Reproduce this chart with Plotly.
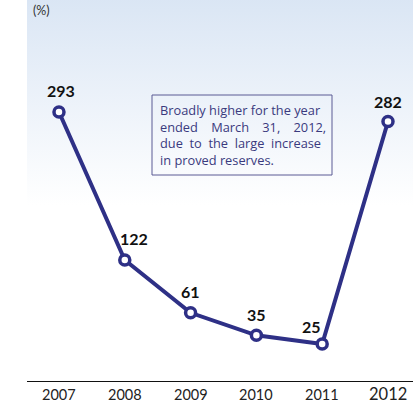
import plotly.graph_objects as go

years = ["2007", "2008", "2009", "2010", "2011", "2012"]
values = [293, 122, 61, 35, 25, 282]
tick_labels = ["2007", "2008", "2009", "2010", "2011", "2012"]
note_lines = ["Broadly higher for the year",
              "ended&nbsp;&nbsp;&nbsp; March&nbsp;&nbsp;&nbsp; 31,&nbsp;&nbsp;&nbsp; 2012,",
              "due&nbsp; to&nbsp; the&nbsp; large&nbsp; increase",
              "in proved reserves."]

NAVY = "#2e3086"
xpos = list(range(len(years)))
label_xshift = [2, 9, 0, 0, -11, 0]
label_yshift = [21, 21, 21, 21, 17, 20]

PL, PW, PH = 27, 386, 381   # plot area left/width/height in px


def px_x(x):
    return (x - PL) / PW


def px_y(y):
    return 1 - y / PH


fig = go.Figure()

# background gradient (light blue at top fading to white)
fig.add_trace(go.Scatter(
    x=[-0.5, 5.5, 5.5, -0.5, -0.5], y=[185, 185, 430, 430, 185],
    mode="lines", line=dict(width=0), fill="toself",
    fillgradient=dict(type="vertical",
                      colorscale=[[0, "rgba(255,255,255,1)"], [1, "#d9e5f4"]]),
    hoverinfo="skip", showlegend=False))

fig.add_trace(go.Scatter(
    x=xpos, y=values, mode="lines+markers",
    line=dict(color=NAVY, width=4),
    marker=dict(size=10, color="white", line=dict(color=NAVY, width=3.5)),
    showlegend=False, cliponaxis=False))

for i, v in enumerate(values):
    fig.add_annotation(x=xpos[i], y=v, text=str(v), showarrow=False,
                       xshift=label_xshift[i], yshift=label_yshift[i],
                       font=dict(family="Lato", size=16, color="#111111", weight="bold"))

# year labels
for i, t in enumerate(tick_labels):
    big = (t == "2012")
    fig.add_annotation(x=xpos[i], y=px_y(393.5 if big else 394.5), yref="paper",
                       text=t, showarrow=False, yanchor="middle",
                       font=dict(family="Lato", size=16.5 if big else 14.5, color="#222222"))

fig.add_annotation(x=0, xref="paper", xanchor="left", xshift=4,
                   y=px_y(11), yref="paper", yanchor="middle",
                   text="(%)", showarrow=False,
                   font=dict(family="Lato", size=12.5, color="#333333"))

# note box
fig.add_shape(type="rect", xref="paper", yref="paper",
              x0=px_x(152), x1=px_x(332), y0=px_y(175), y1=px_y(95),
              line=dict(color="#5a5a94", width=1), fillcolor="rgba(0,0,0,0)")
fig.add_annotation(x=px_x(158), xref="paper", xanchor="left",
                   y=px_y(135), yref="paper", yanchor="middle",
                   text="<br>".join(note_lines), showarrow=False, align="left",
                   font=dict(family="Open Sans", size=12.8, color="#3a3a7e"))

fig.update_layout(
    width=414, height=403,
    margin=dict(l=PL, r=1, t=0, b=22),
    paper_bgcolor="white", plot_bgcolor="white",
    xaxis=dict(range=[-0.486, 5.38], showgrid=False, zeroline=False,
               showline=True, linecolor="#111111", linewidth=1.2,
               showticklabels=False, ticks="", fixedrange=True),
    yaxis=dict(range=[-17.8, 422.3], visible=False, fixedrange=True),
)

fig.write_html("out.html")
